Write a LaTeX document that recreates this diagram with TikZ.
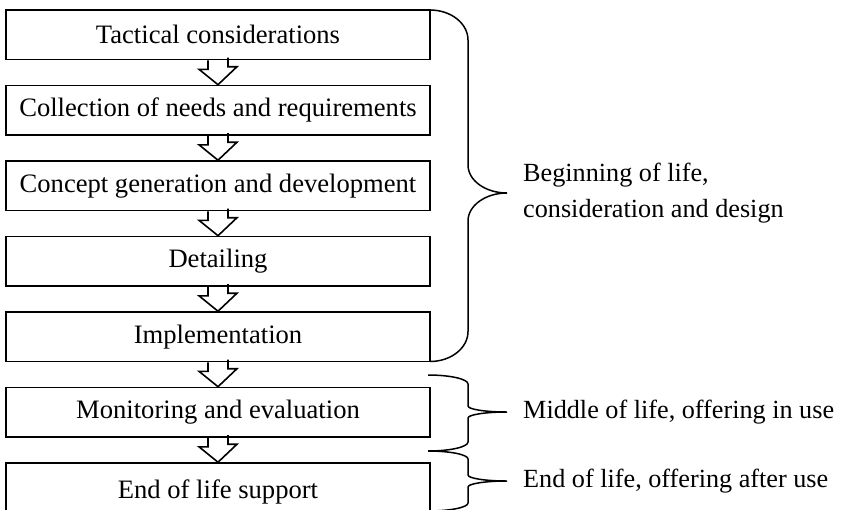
\documentclass[tikz,border=0pt]{standalone}
\usepackage{fontspec}
\setmainfont{Liberation Serif}
\usetikzlibrary{calc}

% Curly brace drawn as a path: ends at x=#1, spine at x=#2, tip at x=#3,
% top y=#4, tip y=#5, bottom y=#6, end curve height #7, tip curve height #8
\newcommand{\lifebrace}[8]{%
  \draw[bracestyle] (#1,#4)
    .. controls ({#1+0.552*(#2-#1)},#4) and (#2,{#4+0.448*#7}) .. (#2,{#4+#7})
    -- (#2,{#5-#8})
    .. controls (#2,{#5-0.448*#8}) and ({#3-0.552*(#3-#2)},#5) .. (#3,#5)
    .. controls ({#3-0.552*(#3-#2)},#5) and (#2,{#5+0.448*#8}) .. (#2,{#5+#8})
    -- (#2,{#6-#7})
    .. controls (#2,{#6-0.448*#7}) and ({#1+0.552*(#2-#1)},#6) .. (#1,#6);%
}

\tikzset{
  stagebox/.style={draw=black, line width=1.6pt, fill=white,
    minimum width=424pt, minimum height=49.5pt, inner sep=0pt},
  stagetext/.style={font=\fontsize{26.6}{30}\selectfont},
  flowarrow/.style={draw=black, line width=1.6pt, line join=miter},
  bracestyle/.style={draw=black, line width=1.5pt},
  phaselabel/.style={anchor=west, align=left, inner sep=0pt,
    font=\fontsize{26.2}{36}\selectfont}
}

\begin{document}
\begin{tikzpicture}[x=1pt, y=-1pt]
  \useasboundingbox[fill=white] (0,0) rectangle (842,509);

  % lifecycle stages
  \node[stagebox] (b1) at (218,34.75) {};
  \node[stagetext] at (b1.center) {Tactical considerations};
  \node[stagebox] (b2) at (218,110.25) {};
  \node[stagetext] at (b2.center) {Collection of needs and requirements};
  \node[stagebox] (b3) at (218,185.75) {};
  \node[stagetext] at (b3.center) {Concept generation and development};
  \node[stagebox] (b4) at (218,261.25) {};
  \node[stagetext] at (b4.center) {Detailing};
  \node[stagebox] (b5) at (218,336.75) {};
  \node[stagetext] at (b5.center) {Implementation};
  \node[stagebox] (b6) at (218,412.25) {};
  \node[stagetext] at (b6.center) {Monitoring and evaluation};
  \node[stagebox, minimum height=64pt] (b7) at (218,495) {};
  \node[stagetext] at (218,492) {End of life support};

  % hollow arrows between consecutive stages
  \foreach \a/\b in {b1/b2, b2/b3, b3/b4, b4/b5, b5/b6, b6/b7}{
    \draw[flowarrow] (\a.south) ++(-10,0) -- ++(0,9) -- ++(-9,0)
      -- (\b.north) -- ++(19,-18) -- ++(-9,0) -- ++(0,-9);
  }

  % phase braces
  \lifebrace{430}{468}{507}{10}{193}{361.5}{30}{28}
  \lifebrace{428}{468}{507}{375}{412}{451}{9}{6}
  \lifebrace{428}{468}{507}{451}{481}{511}{8}{6}

  % phase labels
  \node[phaselabel] (p1) at (523,193) {Beginning of life,\\consideration and design};
  \node[phaselabel] (p2) at (523,412) {Middle of life, offering in use};
  \node[phaselabel] (p3) at (523,481) {End of life, offering after use};
\end{tikzpicture}
\end{document}
